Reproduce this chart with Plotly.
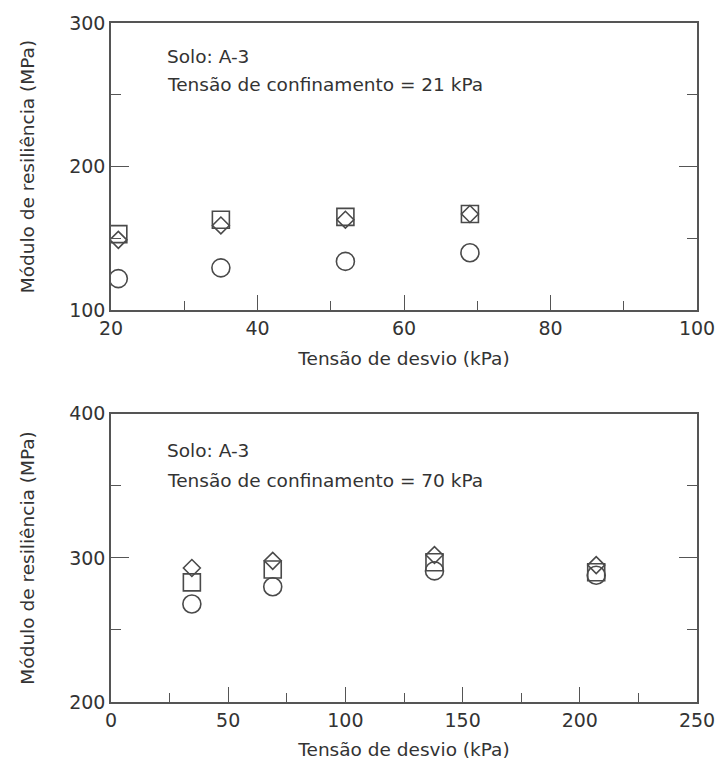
import plotly.graph_objects as go

# Top panel: confinement 21 kPa
x_top = [21, 35, 52, 69]
circ_top = [122, 129.5, 134, 140]
sq_top = [153, 163, 165, 167]
dia_top = [149, 159, 163, 167]

# Bottom panel: confinement 70 kPa
x_bot = [34.5, 69, 138, 207]
circ_bot = [268, 280, 291, 288]
sq_bot = [283, 292, 297, 290]
dia_bot = [293, 298, 302, 295]

mcol = "#4a4a4a"
fnt = "DejaVu Sans, Liberation Sans, Arial, sans-serif"
fs = 18.5

fig = go.Figure()

def add(x, y, sym, size, xa, ya):
    fig.add_trace(go.Scatter(
        x=x, y=y, mode="markers", xaxis=xa, yaxis=ya, showlegend=False,
        marker=dict(symbol=sym, size=size, color=mcol,
                    line=dict(color=mcol, width=1.6))))

add(x_top, circ_top, "circle-open", 18, "x", "y")
add(x_top, sq_top, "square-open", 17, "x", "y")
add(x_top, dia_top, "diamond-open", 13, "x", "y")
add(x_bot, circ_bot, "circle-open", 18, "x2", "y2")
add(x_bot, sq_bot, "square-open", 17, "x2", "y2")
add(x_bot, dia_bot, "diamond-open", 13, "x2", "y2")

axcol = "#555555"
def xax(rng, dt, mdt, dom_anchor):
    return dict(range=rng, dtick=dt, tick0=0, ticks="inside", ticklen=15, tickwidth=1.3,
                tickcolor=axcol, showline=True, linecolor=axcol, linewidth=1.5,
                mirror=True, showgrid=False, zeroline=False, anchor=dom_anchor,
                tickfont=dict(family=fnt, size=19, color="#333"),
                minor=dict(dtick=mdt, ticks="inside", ticklen=9, tickwidth=1.3, tickcolor=axcol),
                title=dict(text="Tensão de desvio (kPa)", font=dict(family=fnt, size=fs, color="#333"),
                           standoff=14))

def yax(rng, dom, anchor):
    return dict(range=rng, dtick=100, tick0=0, domain=dom, ticks="inside", ticklen=18, tickwidth=1.3,
                tickcolor=axcol, showline=True, linecolor=axcol, linewidth=1.5,
                mirror="ticks", showgrid=False, zeroline=False, anchor=anchor,
                tickfont=dict(family=fnt, size=19, color="#333"),
                minor=dict(dtick=50, ticks="inside", ticklen=10, tickwidth=1.3, tickcolor=axcol),
                title=dict(text="Módulo de resiliência (MPa)", font=dict(family=fnt, size=fs, color="#333"),
                           standoff=30))

fig.update_layout(
    width=727, height=773,
    margin=dict(l=111, r=19, t=14, b=71),
    paper_bgcolor="white", plot_bgcolor="white",
    xaxis=xax([20, 100], 20, 10, "y"),
    yaxis=yax([100, 300], [0.577, 1.0], "x"),
    xaxis2=xax([0, 250], 50, 25, "y2"),
    yaxis2=yax([200, 400], [0.0, 0.4244], "x2"),
)

def ann(text, xref, yref, x, y):
    fig.add_annotation(text=text, xref=xref, yref=yref, x=x, y=y, xanchor="left", yanchor="middle",
                       showarrow=False, font=dict(family=fnt, size=fs, color="#333"))

ann("Solo: A-3", "x domain", "y domain", 0.093, 0.885)
ann("Tensão de confinamento = 21 kPa", "x domain", "y domain", 0.093, 0.785)
ann("Solo: A-3", "x2 domain", "y2 domain", 0.093, 0.872)
ann("Tensão de confinamento = 70 kPa", "x2 domain", "y2 domain", 0.093, 0.767)

fig.write_html("out.html")
